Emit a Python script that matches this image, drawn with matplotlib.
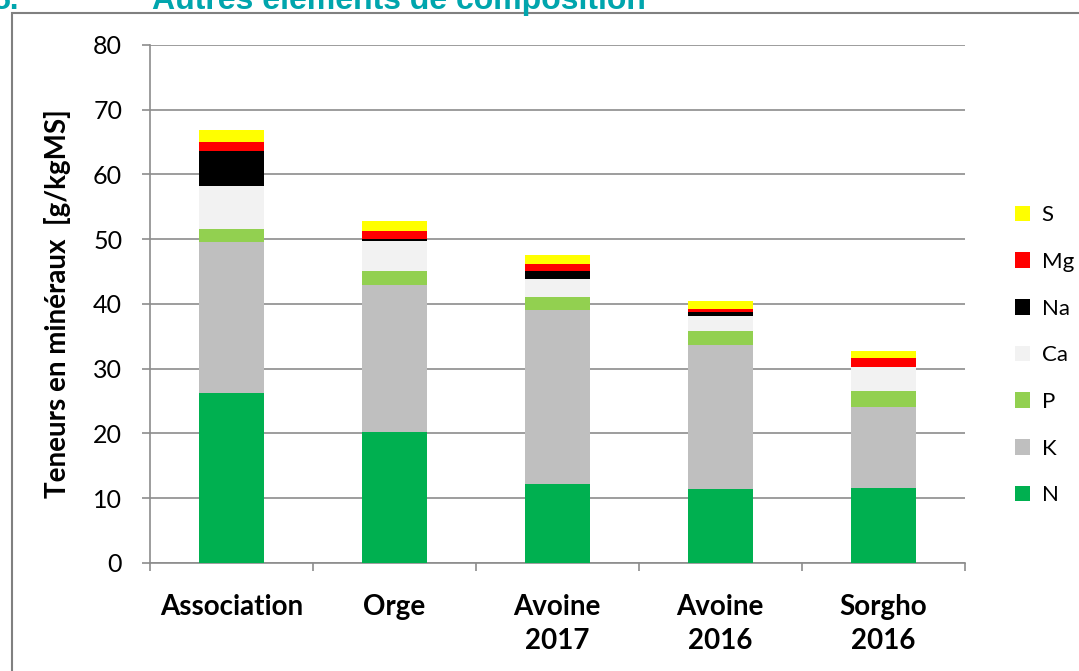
import numpy as np
import matplotlib.pyplot as plt
from matplotlib.patches import Rectangle

plt.rcParams['font.family'] = ['Lato', 'DejaVu Sans']

# data, g/kgMS
categories = ['Association', 'Orge', 'Avoine\n2017', 'Avoine\n2016', 'Sorgho\n2016']
elements = ['N', 'K', 'P', 'Ca', 'Na', 'Mg', 'S']
N = [26.3, 20.2, 12.2, 11.4, 11.6]
K = [23.3, 22.7, 26.8, 22.3, 12.5]
P = [2.0, 2.2, 2.1, 2.2, 2.4]
Ca = [6.6, 4.7, 2.8, 2.2, 3.7]
Na = [5.5, 0.2, 1.2, 0.6, 0.1]
Mg = [1.3, 1.2, 1.0, 0.5, 1.4]
S = [1.9, 1.6, 1.4, 1.2, 1.1]
series = [N, K, P, Ca, Na, Mg, S]
colors = ['#00B050', '#BFBFBF', '#92D050', '#F2F2F2', '#000000', '#FF0000', '#FFFF00']

fig = plt.figure(figsize=(10.79, 6.71), dpi=100)
ax = fig.add_axes([0.139, 0.161, 0.755, 0.772])

x = np.arange(len(categories))
bottom = np.zeros(len(categories))
handles = []
for name, vals, c in zip(elements, series, colors):
    b = ax.bar(x, vals, width=0.4, bottom=bottom, color=c, label=name, zorder=3)
    handles.append(b)
    bottom += np.array(vals)

ax.set_xlim(-0.5, len(categories) - 0.5)
ax.set_ylim(0, 80)
ax.set_yticks(np.arange(0, 81, 10))
ax.yaxis.grid(True, color='#8C8C8C', linewidth=1.2, zorder=0)
ax.set_axisbelow(True)

for s in ['top', 'right']:
    ax.spines[s].set_visible(False)
ax.spines['left'].set_color('#8C8C8C')
ax.spines['bottom'].set_color('#8C8C8C')
ax.spines['left'].set_linewidth(1.2)
ax.spines['bottom'].set_linewidth(1.2)

ax.set_xticks(x)
ax.set_xticklabels(categories, fontsize=20, fontweight='bold', linespacing=1.4)
ax.set_xticks(np.arange(-0.5, len(categories)), minor=True)
ax.tick_params(axis='x', which='major', length=0, pad=22)
ax.tick_params(axis='x', which='minor', length=6, color='#8C8C8C', width=1.2)
ax.tick_params(axis='y', labelsize=18, length=6, color='#8C8C8C', width=1.2, pad=14)
ax.set_ylabel('Teneurs en minéraux  [g/kgMS]', fontsize=20, fontweight='bold', labelpad=16)

leg = fig.legend(handles[::-1], elements[::-1], loc='upper left',
                 bbox_to_anchor=(0.922, 0.724), frameon=False, fontsize=16,
                 handlelength=0.7, handleheight=0.7, handletextpad=0.5,
                 labelspacing=1.2)

# frame around the chart area and the clipped section title above it
fig.patches.append(Rectangle((12 / 1079, -0.1), 1.2, 1 - 13 / 671 + 0.1,
                             transform=fig.transFigure, fill=False,
                             edgecolor='#808080', linewidth=1.5))
fig.text(152 / 1079, 1 - 9 / 671, 'Autres éléments de composition', color='#00A5AD',
         fontsize=23, fontweight='bold', family=['Liberation Sans'], va='baseline')
fig.text(-8 / 1079, 1 - 9 / 671, '5.', color='#00A5AD',
         fontsize=23, fontweight='bold', family=['Liberation Sans'], va='baseline')

fig.savefig('out.png', dpi=100)
